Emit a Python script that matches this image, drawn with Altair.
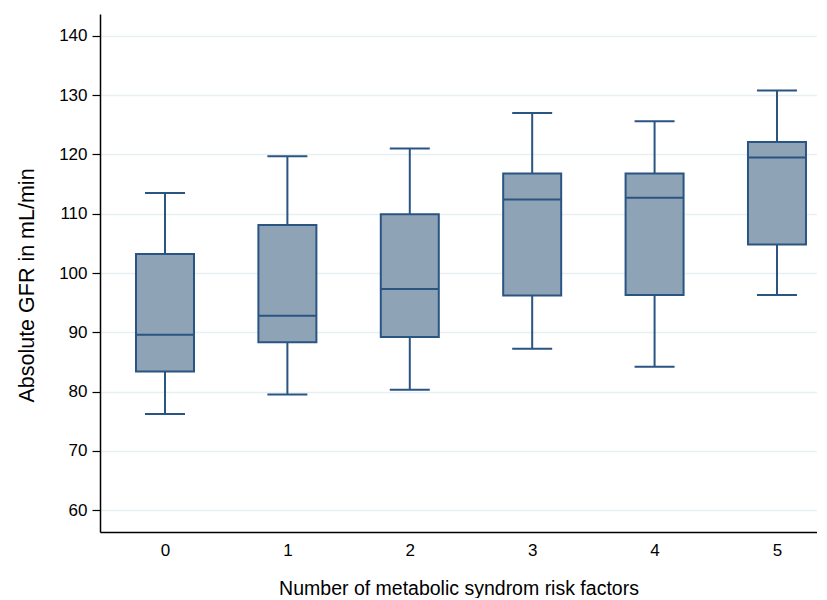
import altair as alt
import pandas as pd

risk_factors = [0, 1, 2, 3, 4, 5]
lower_whisker = [76.2, 79.5, 80.3, 87.2, 84.2, 96.3]
q1 = [83.4, 88.3, 89.2, 96.2, 96.3, 104.8]
median = [89.6, 92.8, 97.3, 112.4, 112.7, 119.5]
q3 = [103.2, 108.1, 109.9, 116.8, 116.8, 122.1]
upper_whisker = [113.5, 119.7, 121.0, 127.0, 125.6, 130.8]

df = pd.DataFrame({
    "k": risk_factors,
    "lo": lower_whisker,
    "q1": q1,
    "med": median,
    "q3": q3,
    "hi": upper_whisker,
})

FILL = "#8fa3b7"
STROKE = "#2a5582"
FONT = "Liberation Sans"

x_enc = alt.X(
    "k:Q",
    scale=alt.Scale(domain=[-0.531, 5.327], nice=False, zero=False, padding=0),
    axis=alt.Axis(
        values=risk_factors,
        format="d",
        title="Number of metabolic syndrom risk factors",
        grid=False,
        ticks=False,
        tickSize=0,
        labelPadding=10,
        labelFontSize=17,
        labelFont=FONT,
        labelColor="#000000",
        titleFont=FONT,
        titleFontSize=19.5,
        titleFontWeight="normal",
        titleColor="#000000",
        titleBaseline="alphabetic",
        titleY=62,
        domainColor="#000000",
        domainWidth=1.5,
    ),
)

y_scale = alt.Scale(domain=[56.3, 143.7], nice=False, zero=False, padding=0)
y_axis = alt.Axis(
    values=[60, 70, 80, 90, 100, 110, 120, 130, 140],
    title="Absolute GFR in mL/min",
    grid=True,
    gridColor="#e6eff1",
    gridWidth=1.5,
    tickSize=8,
    tickColor="#000000",
    tickWidth=1.2,
    labelPadding=5,
    labelFontSize=17,
    labelFont=FONT,
    labelColor="#000000",
    titleFont=FONT,
    titleFontSize=21.5,
    titleFontWeight="normal",
    titleColor="#000000",
    titleBaseline="alphabetic",
    titleX=-67,
    titleY=271,
    domainColor="#000000",
    domainWidth=1.5,
)

base = alt.Chart(df)

whisker = base.mark_rule(color=STROKE, strokeWidth=2).encode(
    x=x_enc,
    y=alt.Y("lo:Q", scale=y_scale, axis=y_axis),
    y2="hi:Q",
)

box = base.mark_bar(size=58, fill=FILL, stroke=STROKE, strokeWidth=2, opacity=1).encode(
    x="k:Q",
    y="q1:Q",
    y2="q3:Q",
)

med = base.mark_tick(orient="horizontal", size=58, thickness=2, color=STROKE, opacity=1).encode(
    x="k:Q",
    y="med:Q",
)

cap_hi = base.mark_tick(orient="horizontal", size=40, thickness=2, color=STROKE, opacity=1).encode(
    x="k:Q",
    y="hi:Q",
)

cap_lo = base.mark_tick(orient="horizontal", size=40, thickness=2, color=STROKE, opacity=1).encode(
    x="k:Q",
    y="lo:Q",
)

chart = (
    alt.layer(whisker, box, med, cap_hi, cap_lo)
    .properties(
        width=717,
        height=518,
        autosize=alt.AutoSizeParams(type="none"),
        padding={"left": 92, "top": 6, "right": 0, "bottom": 66},
        background="#ffffff",
    )
    .configure_view(stroke=None)
)

chart.save("out.html", embed_options={"renderer": "svg", "actions": False})
